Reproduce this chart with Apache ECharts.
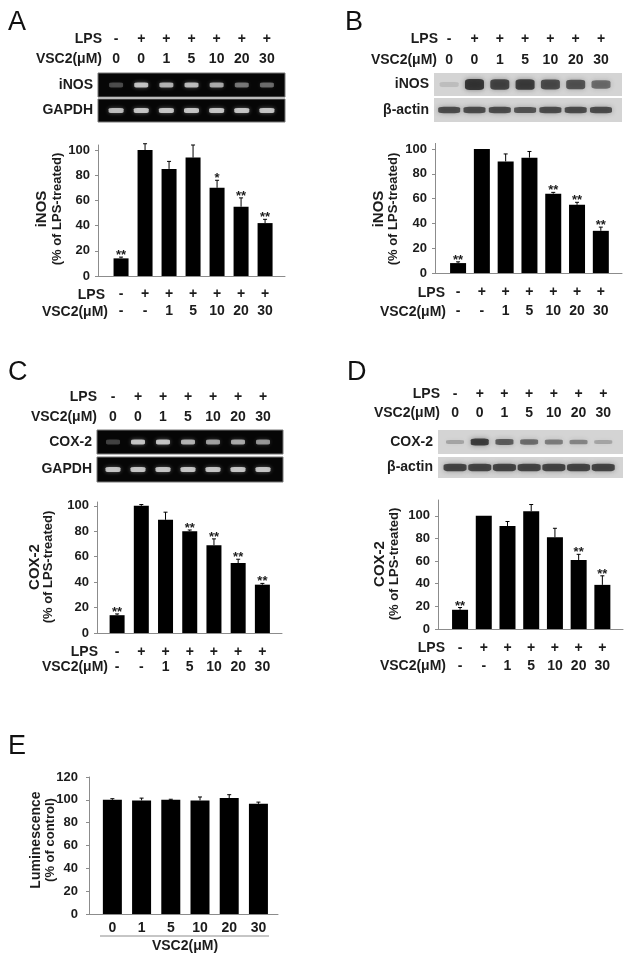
<!DOCTYPE html>
<html>
<head>
<meta charset="utf-8">
<script src="https://cdn.jsdelivr.net/npm/echarts@6/dist/echarts.min.js"></script>
<style>
  html, body { margin: 0; padding: 0; background: #fff; }
  #chart { width: 629px; height: 957px; }
</style>
</head>
<body>
<div id="chart"></div>
<script>
// treatment rows
const lanes = [0, 1, 2, 3, 4, 5, 6]
const lpsSigns = ['-', '+', '+', '+', '+', '+', '+']
const doseTop = ['0', '0', '1', '5', '10', '20', '30']
const doseBottom = ['-', '-', '1', '5', '10', '20', '30']
const doseE = ['0', '1', '5', '10', '20', '30']

// A: iNOS mRNA (RT-PCR)
const inosPcr = [14, 100, 85, 94, 70, 55, 42]
const inosPcrErr = [1, 5, 6, 10, 6, 7, 3]
const inosPcrSig = ['**', '', '', '', '*', '**', '**']

// B: iNOS protein (western)
const inosWb = [8, 100, 90, 93, 64, 55, 34]
const inosWbErr = [1, 0, 6, 5, 1, 2, 3]
const inosWbSig = ['**', '', '', '', '**', '**', '**']

// C: COX-2 mRNA
const coxPcr = [14, 100, 89, 80, 69, 55, 38]
const coxPcrErr = [1, 1, 6, 1, 5, 3, 1]
const coxPcrSig = ['**', '', '', '**', '**', '**', '**']

// D: COX-2 protein
const coxWb = [17, 100, 91, 104, 81, 61, 39]
const coxWbErr = [2, 0, 4, 6, 8, 5, 8]
const coxWbSig = ['**', '', '', '', '', '**', '**']

// E: luminescence
const lumValues = [100, 99.5, 100, 99.5, 101.5, 96.5]
const lumErr = [1, 2, 0.5, 3, 3, 1.5]
const lumSig = ['', '', '', '', '', '']

const bandInosPcr = [0.35, 0.95, 0.85, 0.9, 0.8, 0.55, 0.5]
const bandGapdhA = [0.9, 0.95, 0.95, 0.95, 0.95, 0.95, 0.95]
const bandInosWb = [0.15, 1, 0.9, 0.95, 0.85, 0.8, 0.65]
const bandActinB = [0.85, 0.85, 0.85, 0.8, 0.85, 0.85, 0.85]
const bandCoxPcr = [0.3, 0.95, 0.95, 0.85, 0.75, 0.8, 0.7]
const bandGapdhC = [0.95, 0.95, 0.95, 0.95, 0.95, 0.95, 0.95]
const bandCoxWb = [0.3, 0.95, 0.75, 0.65, 0.55, 0.5, 0.3]
const bandActinD = [0.9, 0.9, 0.9, 0.9, 0.9, 0.9, 0.9]

const pctTicks = [0, 20, 40, 60, 80, 100]
const lumTicks = [0, 20, 40, 60, 80, 100, 120]

const FONT = '"Liberation Sans", Arial, sans-serif'
const INK = '#1c1c1c'
const AXIS = '#8c8c8c'

const grid = []
const xAxis = []
const yAxis = []
const series = []
const texts = []

function boldText(size, extra) {
  return Object.assign({ fontSize: size, fontWeight: 'bold', fontFamily: FONT, color: INK }, extra || {})
}

function addGel(box, xr, name, bands, kind, size, header) {
  const gi = grid.length
  const pcr = kind === 'pcr'
  grid.push({
    left: box[0], top: box[1], width: box[2], height: box[3], show: true,
    backgroundColor: pcr ? '#060606' : '#d4d4d4',
    borderColor: pcr ? '#777' : '#d4d4d4', borderWidth: pcr ? 1 : 0
  })
  xAxis.push({
    gridIndex: gi, type: 'value', min: xr[0], max: xr[1], position: 'top',
    axisLine: { show: false, onZero: false }, axisTick: { show: false }, splitLine: { show: false },
    axisLabel: header
      ? boldText(14, {
          customValues: lanes, margin: header.margin, lineHeight: header.lh,
          formatter: v => lpsSigns[v] + '\n' + doseTop[v]
        })
      : { show: false }
  })
  yAxis.push({
    gridIndex: gi, type: 'category', data: [name],
    axisLine: { show: false, onZero: false }, axisTick: { show: false },
    axisLabel: boldText(14, { margin: 5 })
  })
  series.push({
    type: 'scatter', xAxisIndex: gi, yAxisIndex: gi, silent: true,
    symbol: 'roundRect',
    data: bands.map((b, i) => ({
      value: [i, 0],
      symbolSize: pcr ? size : [size[0], size[1] * (0.35 + 0.65 * b)],
      itemStyle: pcr
        ? { color: `rgba(238,238,238,${b})`, shadowBlur: 4, shadowColor: `rgba(255,255,255,${b * 0.5})` }
        : { color: `rgba(28,28,28,${b})`, shadowBlur: 5, shadowColor: `rgba(40,40,40,${b * 0.6})` }
    }))
  })
}

// error bar + significance marks, read straight from the panel arrays
function errorBars(vals, errs, sig) {
  return function (params, api) {
    const i = params.dataIndex
    const v = vals[i]
    const e = errs[i]
    const p0 = api.coord([i, v])
    const p1 = api.coord([i, v + e])
    const children = []
    if (e > 0) {
      children.push({ type: 'line', shape: { x1: p0[0], y1: p0[1], x2: p1[0], y2: p1[1] }, style: { stroke: '#000', lineWidth: 1 } })
      children.push({ type: 'line', shape: { x1: p1[0] - 2, y1: p1[1], x2: p1[0] + 2, y2: p1[1] }, style: { stroke: '#000', lineWidth: 1 } })
    }
    if (sig[i]) {
      children.push({
        type: 'text', x: p1[0], y: p1[1] + 5,
        style: { text: sig[i], align: 'center', verticalAlign: 'bottom', fontSize: 13, fontWeight: 'bold', fontFamily: FONT, fill: INK }
      })
    }
    return { type: 'group', children }
  }
}

function addBars(box, xr, yMax, ticks, vals, errs, sig, barW, footer) {
  const gi = grid.length
  grid.push({ left: box[0], top: box[1], width: box[2], height: box[3] })
  xAxis.push({
    gridIndex: gi, type: 'value', min: xr[0], max: xr[1],
    axisLine: { onZero: false, lineStyle: { color: AXIS } }, axisTick: { show: false }, splitLine: { show: false },
    axisLabel: boldText(footer.size, {
      customValues: vals.map((v, i) => i), margin: footer.margin, lineHeight: footer.lh,
      formatter: footer.fmt
    })
  })
  yAxis.push({
    gridIndex: gi, type: 'value', min: 0, max: yMax,
    axisLine: { show: true, onZero: false, lineStyle: { color: AXIS } },
    axisTick: { show: true, length: 3, customValues: ticks, lineStyle: { color: AXIS } },
    axisLabel: boldText(13, { customValues: ticks, margin: footer.yMargin }),
    splitLine: { show: false }
  })
  series.push({
    type: 'bar', xAxisIndex: gi, yAxisIndex: gi, silent: true, barWidth: barW,
    itemStyle: { color: '#000' },
    data: vals.map((v, i) => [i, v])
  })
  series.push({
    type: 'custom', xAxisIndex: gi, yAxisIndex: gi, silent: true, z: 3, clip: false,
    renderItem: errorBars(vals, errs, sig),
    data: vals.map((v, i) => [i, v])
  })
}

function rowName(text, right, y) {
  texts.push({
    type: 'text', x: right, y: y, silent: true,
    style: { text, align: 'right', verticalAlign: 'middle', fontSize: 14, fontWeight: 'bold', fontFamily: FONT, fill: INK }
  })
}

function panelLetter(text, x, y) {
  texts.push({
    type: 'text', x: x, y: y, silent: true,
    style: { text, align: 'left', verticalAlign: 'middle', fontSize: 27, fontFamily: FONT, fill: '#111' }
  })
}

function yTitle(first, second, x, y, lh, firstSize) {
  texts.push({
    type: 'text', x: x, y: y, rotation: Math.PI / 2, silent: true,
    style: {
      text: '{a|' + first + '}\n{b|' + second + '}', align: 'center', verticalAlign: 'middle',
      fill: INK,
      rich: {
        a: { fontSize: firstSize, fontWeight: 'bold', fontFamily: FONT, lineHeight: lh, fill: INK },
        b: { fontSize: 13, fontWeight: 'bold', fontFamily: FONT, lineHeight: lh, fill: INK }
      }
    }
  })
}

const treatFmt = v => lpsSigns[v] + '\n' + doseBottom[v]

// ---- panel A
addGel([98, 73, 187, 24], [-0.72, 6.72], 'iNOS', bandInosPcr, 'pcr', [14, 5], { margin: 4, lh: 20 })
addGel([98, 99, 187, 23], [-0.72, 6.72], 'GAPDH', bandGapdhA, 'pcr', [15, 5])
addBars([98, 145, 187, 131], [-0.96, 6.83], 104, pctTicks, inosPcr, inosPcrErr, inosPcrSig, 15,
  { size: 14, margin: 10, lh: 17, fmt: treatFmt, yMargin: 8 })

// ---- panel B
addGel([434, 73, 188, 23], [-0.6, 6.83], 'iNOS', bandInosWb, 'wb', [19, 11], { margin: 2, lh: 21 })
addGel([434, 98, 188, 24], [-0.6, 6.83], 'β-actin', bandActinB, 'wb', [22, 7])
addBars([435, 143.4, 187, 129.6], [-0.97, 6.89], 104.5, pctTicks, inosWb, inosWbErr, inosWbSig, 16,
  { size: 14, margin: 10, lh: 19, fmt: treatFmt, yMargin: 8 })

// ---- panel C
addGel([97, 430, 186, 24], [-0.64, 6.8], 'COX-2', bandCoxPcr, 'pcr', [14, 5], { margin: 3, lh: 20 })
addGel([97, 457, 186, 25], [-0.64, 6.8], 'GAPDH', bandGapdhC, 'pcr', [15, 5])
addBars([97, 502, 185, 131], [-0.83, 6.81], 103, pctTicks, coxPcr, coxPcrErr, coxPcrSig, 15,
  { size: 14, margin: 12, lh: 15, fmt: treatFmt, yMargin: 8 })

// ---- panel D
addGel([438, 430, 185, 24], [-0.69, 6.8], 'COX-2', bandCoxWb, 'wb', [18, 7], { margin: 7, lh: 19 })
addGel([438, 457, 185, 21], [-0.69, 6.8], 'β-actin', bandActinD, 'wb', [23, 8])
addBars([438, 500, 185, 129], [-0.93, 6.87], 114, pctTicks, coxWb, coxWbErr, coxWbSig, 16,
  { size: 14, margin: 10, lh: 18, fmt: treatFmt, yMargin: 8 })

// ---- panel E
addBars([89, 777, 189, 137], [-0.8, 5.67], 120, lumTicks, lumValues, lumErr, lumSig, 19,
  { size: 14, margin: 7, lh: 14, fmt: v => doseE[v], yMargin: 11 })

// row names
rowName('LPS', 102, 39); rowName('VSC2(μM)', 102, 59)
rowName('LPS', 105, 295); rowName('VSC2(μM)', 108, 312)
rowName('LPS', 438, 39); rowName('VSC2(μM)', 437, 60)
rowName('LPS', 445, 293); rowName('VSC2(μM)', 446, 312)
rowName('LPS', 97, 397); rowName('VSC2(μM)', 97, 417)
rowName('LPS', 98, 652); rowName('VSC2(μM)', 108, 667)
rowName('LPS', 440, 394); rowName('VSC2(μM)', 440, 413)
rowName('LPS', 445, 648); rowName('VSC2(μM)', 446, 666)

panelLetter('A', 8, 23)
panelLetter('B', 345, 23)
panelLetter('C', 8, 373)
panelLetter('D', 347, 373)
panelLetter('E', 8, 747)

yTitle('iNOS', '(% of LPS-treated)', 49.5, 209, 15, 15)
yTitle('iNOS', '(% of LPS-treated)', 386, 209, 14, 15)
yTitle('COX-2', '(% of LPS-treated)', 41.5, 567, 14, 15)
yTitle('COX-2', '(% of LPS-treated)', 387, 564, 14, 15)
yTitle('Luminescence', '(% of control)', 43, 840, 14, 14)

// E: bracket line and axis caption
texts.push({ type: 'line', silent: true, shape: { x1: 100, y1: 936, x2: 269, y2: 936 }, style: { stroke: AXIS, lineWidth: 1 } })
texts.push({
  type: 'text', x: 185, y: 946, silent: true,
  style: { text: 'VSC2(μM)', align: 'center', verticalAlign: 'middle', fontSize: 14, fontWeight: 'bold', fontFamily: FONT, fill: INK }
})

const chart = echarts.init(document.getElementById('chart'), null, { renderer: 'canvas' })
chart.setOption({
  animation: false,
  backgroundColor: '#fff',
  grid, xAxis, yAxis, series,
  graphic: { elements: texts }
})
</script>
</body>
</html>
